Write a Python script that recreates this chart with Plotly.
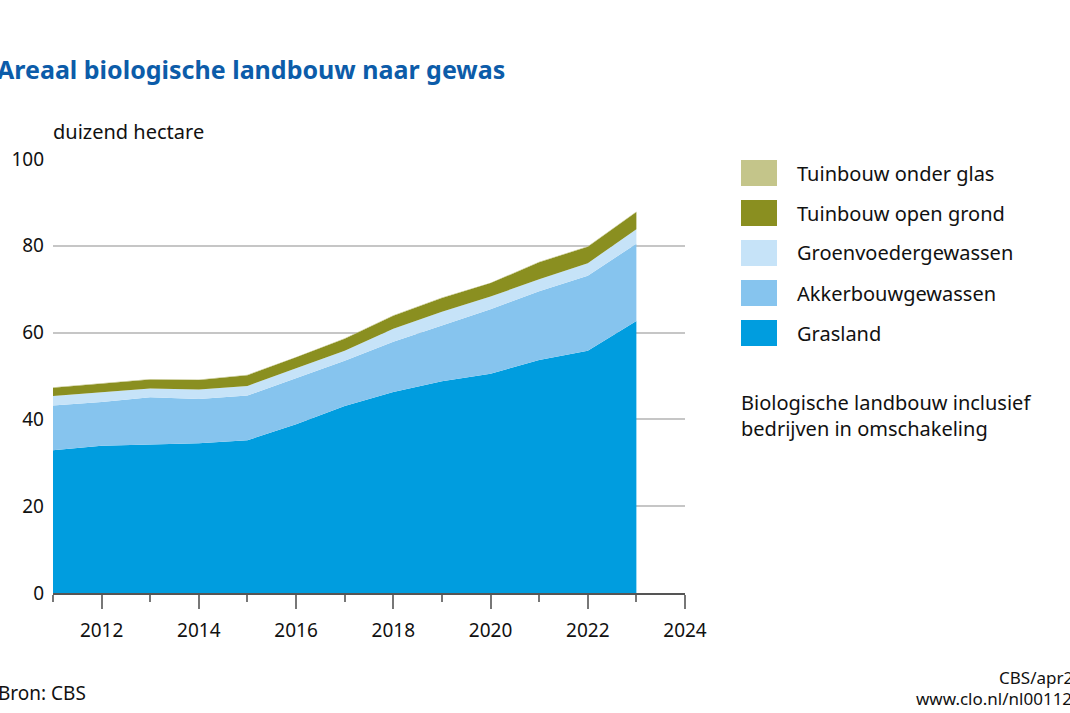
import plotly.graph_objects as go

# Areaal biologische landbouw (duizend hectare), per gewas
years = [2011, 2012, 2013, 2014, 2015, 2016, 2017, 2018, 2019, 2020, 2021, 2022, 2023]
grasland = [32.9, 33.9, 34.2, 34.5, 35.2, 38.9, 43.1, 46.3, 48.8, 50.5, 53.7, 55.8, 62.7]
akkerbouw = [10.3, 10.1, 10.9, 10.2, 10.3, 10.6, 10.4, 11.6, 12.9, 14.9, 15.8, 17.3, 17.8]
groenvoeder = [2.2, 2.2, 2.0, 2.2, 2.2, 2.3, 2.3, 3.0, 3.1, 2.9, 2.8, 2.9, 3.3]
open_grond = [1.9, 2.0, 2.1, 2.2, 2.5, 2.5, 2.8, 3.0, 3.2, 3.1, 3.9, 3.8, 4.0]
onder_glas = [0.1, 0.1, 0.1, 0.1, 0.1, 0.1, 0.1, 0.1, 0.1, 0.1, 0.1, 0.1, 0.1]

# bottom to top
series = [
    ("Grasland", grasland, "#009ddf"),
    ("Akkerbouwgewassen", akkerbouw, "#86c4ee"),
    ("Groenvoedergewassen", groenvoeder, "#c6e3f8"),
    ("Tuinbouw open grond", open_grond, "#8a8f20"),
    ("Tuinbouw onder glas", onder_glas, "#c4c58a"),
]

FONT = "Noto Sans"
W, H = 1070, 713
L, R, T, B = 53, 385, 159, 120
PW, PH = W - L - R, H - T - B


def xp(px):
    return (px - L) / PW


def yp(py):
    return (H - B - py) / PH


fig = go.Figure()
for name, vals, col in series:
    fig.add_trace(
        go.Scatter(
            x=years,
            y=vals,
            name=name,
            stackgroup="one",
            mode="lines",
            line={"width": 0, "color": col},
            fillcolor=col,
            hoverinfo="x+y+name",
        )
    )

shapes = []
annotations = []

# legend (top item = top of the stack)
for i, (name, vals, col) in enumerate(reversed(series)):
    cy = 173 + 40 * i
    shapes.append(
        {
            "type": "rect",
            "xref": "paper",
            "yref": "paper",
            "x0": xp(741),
            "x1": xp(777),
            "y0": yp(cy + 13),
            "y1": yp(cy - 13),
            "fillcolor": col,
            "line": {"width": 0},
        }
    )
    annotations.append(
        {
            "text": name,
            "xref": "paper",
            "yref": "paper",
            "x": xp(795),
            "y": yp(cy),
            "xanchor": "left",
            "yanchor": "middle",
            "showarrow": False,
            "font": {"size": 20, "color": "#111"},
        }
    )

# free texts; the title and footer run off the page edges like the original
texts = [
    ("Biologische landbouw inclusief<br>bedrijven in omschakeling", 739, 415, 20, "#111"),
    ("duizend hectare", 51, 131, 20, "#111"),
    ("<b>Areaal biologische landbouw naar gewas</b>", -5, 69, 25, "#0c5ca9"),
    ("Bron: CBS", -4, 693, 19, "#111"),
    ("CBS/apr24", 997, 677, 17, "#111"),
    ("www.clo.nl/nl0011200", 914, 698, 17, "#111"),
]
for txt, x, y, size, col in texts:
    annotations.append(
        {
            "text": txt,
            "xref": "paper",
            "yref": "paper",
            "x": xp(x),
            "y": yp(y),
            "xanchor": "left",
            "yanchor": "middle",
            "align": "left",
            "showarrow": False,
            "font": {"size": size, "color": col},
        }
    )

fig.update_layout(
    width=W,
    height=H,
    margin={"l": L, "r": R, "t": T, "b": B, "pad": 0},
    plot_bgcolor="white",
    paper_bgcolor="white",
    font={"family": FONT, "size": 19, "color": "#111"},
    showlegend=False,
    shapes=shapes,
    annotations=annotations,
    xaxis={
        "range": [2011, 2024],
        "tick0": 2012,
        "dtick": 2,
        "ticks": "outside",
        "ticklen": 14,
        "tickwidth": 1.5,
        "tickcolor": "#777",
        "ticklabelstandoff": 5,
        "showgrid": False,
        "zeroline": False,
        "showline": True,
        "linecolor": "#555",
        "linewidth": 1.5,
        "tickfont": {"size": 19},
        "minor": {
            "tick0": 2011,
            "dtick": 1,
            "ticks": "outside",
            "ticklen": 7,
            "tickwidth": 1.5,
            "tickcolor": "#777",
            "showgrid": False,
        },
    },
    yaxis={
        "range": [0, 100],
        "dtick": 20,
        "showgrid": True,
        "gridcolor": "#c6c6c6",
        "gridwidth": 1.5,
        "zeroline": False,
        "showline": False,
        "ticks": "",
        "ticklabelstandoff": 8,
        "tickfont": {"size": 19},
    },
)

# the page body has a default 8px margin; drop it so the figure sits at 0,0
fig.write_html(
    "out.html",
    config={"displayModeBar": False},
    post_script="document.body.style.margin = '0';",
)
